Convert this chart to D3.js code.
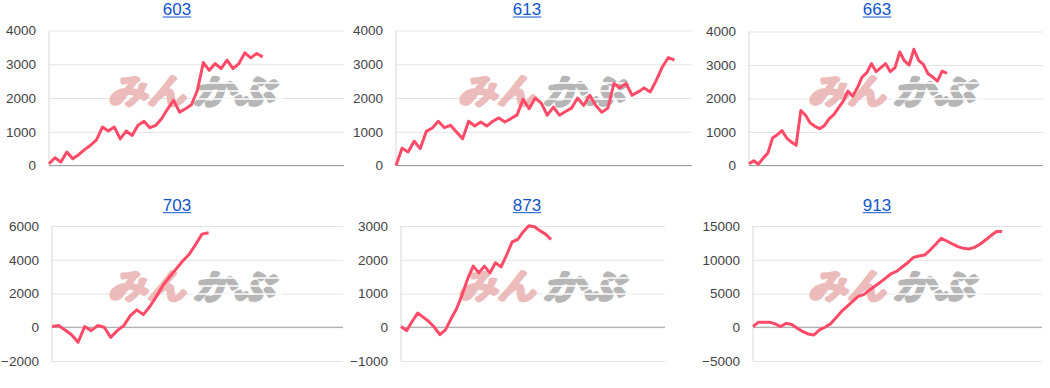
<!DOCTYPE html>
<html>
<head>
<meta charset="utf-8">
<script src="https://cdn.jsdelivr.net/npm/d3@7"></script>
<style>
  body { margin: 0; background: #fff; }
  text { font-family: "Liberation Sans", Arial, sans-serif; }
</style>
</head>
<body>
<div id="chart"></div>
<script>
// chart titles
var titles = ["603", "613", "663", "703", "873", "913"];

// series values, one point per day
var s603 = [50, 230, 100, 400, 200, 320, 470, 600, 760, 1140, 1020, 1140, 790, 1020, 890, 1190, 1310, 1120, 1190, 1390,
    1680, 1930, 1580, 1680, 1800, 2230, 3050, 2820, 3020, 2870, 3120, 2870, 3020, 3340, 3190, 3320, 3220];
var s613 = [0, 510, 400, 720, 500, 1010, 1110, 1310, 1120, 1190, 990, 790, 1310, 1170, 1290, 1170, 1310, 1410, 1290, 1390,
    1500, 1960, 1680, 2000, 1850, 1490, 1730, 1490, 1600, 1700, 2000, 1780, 2080, 1780, 1580, 1700, 2430, 2300, 2430, 2080,
    2180, 2300, 2180, 2520, 2920, 3200, 3120];
var s663 = [50, 140, 40, 220, 370, 820, 920, 1040, 820, 700, 600, 1640, 1500, 1270, 1170, 1100, 1190, 1390, 1520, 1720,
    1920, 2220, 2070, 2320, 2640, 2770, 3040, 2800, 2920, 3040, 2800, 2920, 3390, 3120, 3000, 3470, 3140, 3020, 2740, 2640,
    2520, 2820, 2750];
var s703 = [40, 100, -160, -440, -890, 40, -200, 100, 0, -600, -200, 100, 690, 1030, 750, 1230, 1830, 2480, 2980, 3440,
    3910, 4310, 4900, 5520, 5600];
var s873 = [20, -100, 170, 420, 300, 170, 0, -220, -80, 250, 550, 960, 1440, 1810, 1610, 1810, 1610, 1910, 1790, 2140,
    2530, 2600, 2830, 3010, 2980, 2860, 2760, 2600];
var s913 = [100, 750, 750, 750, 500, 100, 600, 400, -150, -650, -1000, -1150, -400, 0, 500, 1400, 2340, 3090, 3830, 4580,
    4830, 5470, 6070, 6670, 7310, 7960, 8310, 8960, 9600, 10350, 10550, 10700, 11440, 12290, 13180, 12780, 12340, 11940, 11690, 11590,
    11840, 12290, 12930, 13580, 14180, 14180];

// y tick values
var ticksA = [0, 1000, 2000, 3000, 4000];
var ticks703 = [-2000, 0, 2000, 4000, 6000];
var ticks873 = [-1000, 0, 1000, 2000, 3000];
var ticks913 = [-5000, 0, 5000, 10000, 15000];

var w = 1050;
var h = 388;
var lineColor = "#ff4a68";

// where each small chart sits
var layout = [
    {ox: 0,   left: 49,  right: 344,  top: 30.5, bottom: 165.5, xMax: 49.7, row: 0},
    {ox: 350, left: 396, right: 692,  top: 30.5, bottom: 165.5, xMax: 48.9, row: 0},
    {ox: 700, left: 749, right: 1043, top: 31.5, bottom: 165.5, xMax: 62.4, row: 0},
    {ox: 0,   left: 52,  right: 343,  top: 226,  bottom: 361,   xMax: 44.6, row: 1},
    {ox: 350, left: 401, right: 665,  top: 226,  bottom: 361,   xMax: 47.5, row: 1},
    {ox: 700, left: 753, right: 1042, top: 226,  bottom: 361,   xMax: 52.2, row: 1}
];

var series = [s603, s613, s663, s703, s873, s913];
var ticks = [ticksA, ticksA, ticksA, ticks703, ticks873, ticks913];

var svg = d3.select("#chart")
    .append("svg")
    .attr("width", w)
    .attr("height", h);

// heavy slanted logo text
function logoText(parent, x, str, len, color) {
    parent.append("text")
        .attr("x", x).attr("y", 0)
        .attr("dominant-baseline", "central")
        .attr("font-family", "'Noto Sans CJK JP', sans-serif")
        .attr("font-weight", 900)
        .attr("font-size", 33)
        .attr("textLength", len)
        .attr("lengthAdjust", "spacingAndGlyphs")
        .attr("fill", color)
        .attr("stroke", color)
        .attr("stroke-width", 3.4)
        .attr("stroke-linejoin", "round")
        .text(str);
}

series.forEach(function (data, k) {
    var L = layout[k];
    var t = ticks[k];
    var rowY = L.row * 195;

    var xScale = d3.scaleLinear()
        .domain([0, L.xMax])
        .range([L.left, L.right]);

    var yScale = d3.scaleLinear()
        .domain([t[0], t[t.length - 1]])
        .range([L.bottom, L.top]);

    var g = svg.append("g");

    //title with underline
    var ty = 15 + rowY + (L.row ? 0.7 : 0);
    var title = g.append("text")
        .attr("x", L.ox + 177)
        .attr("y", ty)
        .attr("text-anchor", "middle")
        .attr("font-size", 17)
        .attr("fill", "#1155cc")
        .text(titles[k]);
    var tw = title.node().getComputedTextLength();
    g.append("line")
        .attr("x1", L.ox + 177 - tw / 2)
        .attr("x2", L.ox + 177 + tw / 2)
        .attr("y1", ty + 2)
        .attr("y2", ty + 2)
        .attr("stroke", "#1155cc")
        .attr("stroke-width", 1);

    //gridlines and labels
    var axis = g.append("g")
        .attr("transform", "translate(" + L.left + ",0)")
        .call(d3.axisLeft(yScale)
            .tickValues(t)
            .tickSize(-(L.right - L.left))
            .tickPadding(13)
            .tickFormat(d3.format("d")));
    axis.select(".domain").remove();
    axis.selectAll(".tick line")
        .attr("stroke", "#e4e4e4")
        .attr("stroke-width", 1);
    axis.selectAll(".tick text")
        .attr("fill", "#444")
        .attr("font-size", 13.5)
        .attr("font-family", "'Liberation Sans', Arial, sans-serif");

    //vertical axis line
    g.append("line")
        .attr("x1", L.left).attr("x2", L.left)
        .attr("y1", L.top).attr("y2", L.bottom)
        .attr("stroke", "#d6d6d6");

    //watermark
    var cx = L.ox + 195;
    var cy = 90 + rowY;
    var wm = g.append("g")
        .attr("opacity", 0.85)
        .attr("transform", "translate(" + cx + "," + cy + ") skewX(-14)");
    logoText(wm, -82, "みん", 78, "#e9b0b0");
    logoText(wm, 4, "かぶ", 80, "#aaaaaa");
    //speed stripes on the grey part
    [-7, 1, 9].forEach(function (dy) {
        wm.append("line")
            .attr("x1", 0).attr("x2", 90)
            .attr("y1", dy).attr("y2", dy)
            .attr("stroke", "#fff")
            .attr("stroke-width", 1.3);
    });

    //zero baseline
    g.append("line")
        .attr("x1", L.left).attr("x2", L.right)
        .attr("y1", yScale(0)).attr("y2", yScale(0))
        .attr("stroke", "#9e9e9e");

    //the line itself
    var line = d3.line()
        .x(function (d, i) { return xScale(i); })
        .y(function (d) { return yScale(d); });

    g.append("path")
        .datum(data)
        .attr("d", line)
        .attr("fill", "none")
        .attr("stroke", lineColor)
        .attr("stroke-width", 3)
        .attr("stroke-linejoin", "round");
});
</script>
</body>
</html>
